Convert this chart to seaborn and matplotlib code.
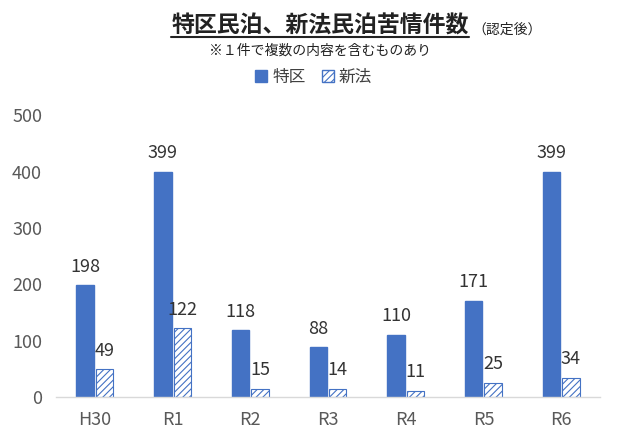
import pandas as pd
import matplotlib.pyplot as plt
import seaborn as sns
from matplotlib.lines import Line2D
from matplotlib.patches import Patch

# data
years = ["H30", "R1", "R2", "R3", "R4", "R5", "R6"]
tokku = [198, 399, 118, 88, 110, 171, 399]
shinpo = [49, 122, 15, 14, 11, 25, 34]

blue = "#4472C4"

df = pd.DataFrame({
    "year": years * 2,
    "count": tokku + shinpo,
    "kind": ["特区"] * len(years) + ["新法"] * len(years),
})

sns.set_style("white")
plt.rcParams["font.family"] = ["Noto Sans CJK JP", "DejaVu Sans"]
plt.rcParams["hatch.color"] = blue
plt.rcParams["hatch.linewidth"] = 0.8

fig = plt.figure(figsize=(6.4, 4.37), dpi=100)
ax = fig.add_axes([0.0875, 0.0915, 0.85, 0.645])

sns.barplot(data=df, x="year", y="count", hue="kind", order=years,
            hue_order=["特区", "新法"], palette=[blue, "white"], saturation=1,
            width=0.5, gap=0.1, legend=False, ax=ax)

# second series: hatched white bars
n = len(years)
for i, p in enumerate(ax.patches[:2 * n]):
    if i >= n:
        p.set_hatch("/////")
        p.set_edgecolor(blue)
        p.set_linewidth(0.8)
    else:
        p.set_edgecolor(blue)

for cont in ax.containers:
    ax.bar_label(cont, padding=7, fontsize=13, color="#333333")

ax.set_ylim(0, 500)
ax.set_yticks(range(0, 501, 100))
ax.set_xlim(-0.5, n - 0.5)
ax.set_xlabel("")
ax.set_ylabel("")
ax.tick_params(axis="both", labelsize=13, colors="#595959", length=0, pad=10)
for s in ["top", "right", "left"]:
    ax.spines[s].set_visible(False)
ax.spines["bottom"].set_color("#D9D9D9")
ax.spines["bottom"].set_linewidth(1)

# title with underline
title = fig.text(0.5, 0.94, "特区民泊、新法民泊苦情件数", ha="center", va="center",
                 fontsize=16.5, fontweight="bold", color="#222222")
fig.canvas.draw()
bb = title.get_window_extent().transformed(fig.transFigure.inverted())
fig.add_artist(Line2D([bb.x0, bb.x1], [bb.y0 + 0.002, bb.y0 + 0.002],
                      transform=fig.transFigure, color="#222222", linewidth=1.5))
fig.text(bb.x1 + 0.006, 0.932, "（認定後）", ha="left", va="center",
         fontsize=10, color="#222222")
fig.text(0.5, 0.885, "※１件で複数の内容を含むものあり", ha="center", va="center",
         fontsize=10, color="#222222")

handles = [Patch(facecolor=blue, edgecolor=blue),
           Patch(facecolor="white", edgecolor=blue, hatch="/////")]
fig.legend(handles, ["特区", "新法"], loc="center", bbox_to_anchor=(0.49, 0.823),
           ncol=2, frameon=False, fontsize=12, handlelength=0.7, handleheight=0.7,
           handletextpad=0.3, columnspacing=1.0, labelcolor="#404040")

fig.savefig("out.png", dpi=100)
